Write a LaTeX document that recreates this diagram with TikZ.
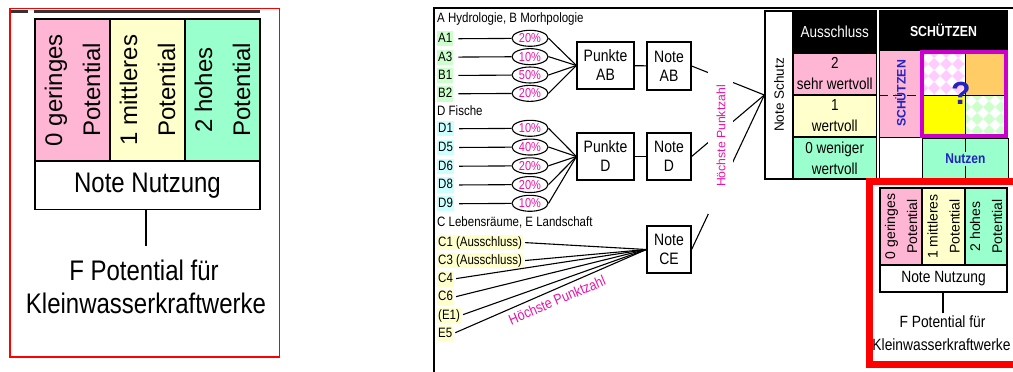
\documentclass[tikz,border=0pt]{standalone}
\usepackage{fontspec}
\setmainfont{Liberation Sans}
\usepackage{graphicx}
\usetikzlibrary{shapes.geometric}
\definecolor{cpink}{RGB}{255,182,213}
\definecolor{cyell}{RGB}{255,255,204}
\definecolor{cmint}{RGB}{153,255,204}
\definecolor{corange}{RGB}{255,204,102}
\definecolor{cyel}{RGB}{255,255,0}
\definecolor{cmag}{RGB}{204,0,204}
\definecolor{cpct}{RGB}{230,20,170}
\definecolor{cblue}{RGB}{35,35,190}
\definecolor{lgreen}{RGB}{204,255,204}
\definecolor{lcyan}{RGB}{204,255,255}
\definecolor{lyel}{RGB}{255,255,204}
\definecolor{chkpink}{RGB}{255,204,255}
\definecolor{chkgreen}{RGB}{204,255,204}
\newcommand{\fz}[2]{\fontsize{#1pt}{#2pt}\selectfont}
\newcommand{\vstr}[1]{\scalebox{1}[1.18]{#1}}
\begin{document}
\begin{tikzpicture}[x=1pt,y=-1pt,
  lbl/.style={anchor=west, inner xsep=1pt, inner ysep=1.8pt, text height=9.7pt, text depth=2pt, font=\fz{11.5}{13}},
  pct/.style={ellipse, draw, line width=1.1pt, minimum width=36pt, minimum height=16pt, inner sep=0pt, text=cpct, font=\fz{11}{13}},
  wire/.style={line width=1.1pt},
  nbox/.style={draw, line width=1.2pt, align=center, inner sep=0pt, font=\fz{14}{19}},
  hdr/.style={font=\fz{11.5}{13}, anchor=base west, inner sep=0pt},
  tcell/.style={draw, line width=1.3pt, inner sep=0pt, align=center},
  bigrot/.style={tcell, line width=1.5pt, rotate=90, minimum width=142pt, minimum height=75pt, font=\fz{24}{38}},
  smallrot/.style={tcell, line width=1.1pt, rotate=90, minimum width=77pt, font=\fz{14}{22}},
  acell/.style={tcell, minimum width=83.5pt, minimum height=42pt, font=\fz{13.5}{21}},
  plain/.style={inner sep=0pt, anchor=base}
]
\useasboundingbox (0,0) rectangle (1013,372);
\fill[white] (0,0) rectangle (1013,372);

% ---------- left zoomed panel ----------
\draw[black!80, line width=3pt] (10,11.2) -- (28,11.2) (34,11.2) -- (260,11.2);
\draw[red, line width=1.3pt] (10,8.7) rectangle (279.3,357);
\node[bigrot, fill=cpink] (lg0) at (72.5,90) {0 geringes\\Potential};
\node[bigrot, fill=cyell] (lg1) at (147.5,90) {1 mittleres\\Potential};
\node[bigrot, fill=cmint] (lg2) at (222.5,90) {2 hohes\\Potential};
\node[tcell, line width=1.5pt, minimum width=225pt, minimum height=48.5pt, font=\fz{24}{28}] (lnn) at (147.5,185.25) {\vstr{Note Nutzung}};
\draw[line width=1.6pt] ([xshift=-1.5pt]lnn.south) -- ++(0,35.5);
\node[plain, font=\fz{24}{28}] (lf1) at (144,280) {\vstr{F Potential für}};
\node[plain, font=\fz{24}{28}] (lf2) at (146,313.5) {\vstr{Kleinwasserkraftwerke}};

% ---------- right panel ----------
\draw[line width=2pt] (434,372) -- (434,7.5) -- (1013,7.5);

\node[hdr] (hab) at (437,22) {\vstr{A Hydrologie, B Morhpologie}};
\node[hdr] (hd) at (437,115.5) {\vstr{D Fische}};
\node[hdr] (hce) at (437,226.5) {\vstr{C Lebensräume, E Landschaft}};

\node[lbl, fill=lgreen] (la1) at (437,38.8) {\vstr{A1}};
\node[lbl, fill=lgreen] (la3) at (437,57.15) {\vstr{A3}};
\node[lbl, fill=lgreen] (lb1) at (437,75.5) {\vstr{B1}};
\node[lbl, fill=lgreen] (lb2) at (437,93.85) {\vstr{B2}};
\node[lbl, fill=lcyan] (ld1) at (437,128.8) {\vstr{D1}};
\node[lbl, fill=lcyan] (ld5) at (437,147.55) {\vstr{D5}};
\node[lbl, fill=lcyan] (ld6) at (437,166.3) {\vstr{D6}};
\node[lbl, fill=lcyan] (ld8) at (437,185.05) {\vstr{D8}};
\node[lbl, fill=lcyan] (ld9) at (437,203.8) {\vstr{D9}};
\node[lbl, fill=lyel] (lc1) at (437,242.5) {\vstr{C1 (Ausschluss)}};
\node[lbl, fill=lyel] (lc3) at (437,260.7) {\vstr{C3 (Ausschluss)}};
\node[lbl, fill=lyel] (lc4) at (437,278.9) {\vstr{C4}};
\node[lbl, fill=lyel] (lc6) at (437,297.1) {\vstr{C6}};
\node[lbl, fill=lyel] (le1) at (437,315.3) {\vstr{(E1)}};
\node[lbl, fill=lyel] (le5) at (437,333.5) {\vstr{E5}};

\node[pct] (ea1) at (530,38.3) {\vstr{20\%}};
\node[pct] (ea2) at (530,56.65) {\vstr{10\%}};
\node[pct] (ea3) at (530,75) {\vstr{50\%}};
\node[pct] (ea4) at (530,93.35) {\vstr{20\%}};
\node[pct] (ed1) at (530,128.3) {\vstr{10\%}};
\node[pct] (ed2) at (530,147.05) {\vstr{40\%}};
\node[pct] (ed3) at (530,165.8) {\vstr{20\%}};
\node[pct] (ed4) at (530,184.55) {\vstr{20\%}};
\node[pct] (ed5) at (530,203.3) {\vstr{10\%}};

\node[nbox, minimum width=57pt, minimum height=47pt] (pab) at (605.5,65.5) {\vstr{Punkte}\\\vstr{AB}};
\node[nbox, minimum width=57pt, minimum height=47pt] (pd) at (605.5,156.5) {\vstr{Punkte}\\\vstr{D}};
\node[nbox, minimum width=44pt, minimum height=48pt] (nab) at (669,66) {\vstr{Note}\\\vstr{AB}};
\node[nbox, minimum width=44pt, minimum height=47pt] (nd) at (669,156.5) {\vstr{Note}\\\vstr{D}};
\node[nbox, minimum width=44pt, minimum height=47pt] (nce) at (669,249.5) {\vstr{Note}\\\vstr{CE}};

\draw[wire, shorten <=5pt] (la1) -- (ea1);
\draw[wire, shorten <=5pt] (la3) -- (ea2);
\draw[wire, shorten <=5pt] (lb1) -- (ea3);
\draw[wire, shorten <=5pt] (lb2) -- (ea4);
\draw[wire, shorten <=5pt] (ld1) -- (ed1);
\draw[wire, shorten <=5pt] (ld5) -- (ed2);
\draw[wire, shorten <=5pt] (ld6) -- (ed3);
\draw[wire, shorten <=5pt] (ld8) -- (ed4);
\draw[wire, shorten <=5pt] (ld9) -- (ed5);
\foreach \n in {ea1,ea2,ea3,ea4} \draw[wire] (\n.east) -- (pab.west);
\foreach \n in {ed1,ed2,ed3,ed4,ed5} \draw[wire] (\n.east) -- (pd.west);
\foreach \n in {lc1,lc3,lc4,lc6,le1,le5} \draw[wire, shorten <=2pt] (\n.east) -- (nce.west);
\draw[wire] (pab) -- (nab);
\draw[wire] (pd) -- (nd);

\node[text=cpct, font=\fz{12.4}{14}, rotate=23, inner sep=0pt] (hp2) at (557,300) {\vstr{Höchste Punktzahl}};

% Note Schutz and Ausschluss column
\node[tcell, minimum width=28pt, minimum height=168pt, font=\fz{13.5}{16}] (ns) at (779,95) {\rotatebox{90}{Note Schutz}};
\draw[wire] (nab.east) -- (ns.west);
\draw[wire] (nd.east) -- (ns.west);
\draw[wire] (nce.east) -- (ns.west);
\fill[white] (708,72) rectangle (733,214);
\node[text=cpct, font=\fz{12.2}{14}, rotate=90, inner sep=0pt] (hp1) at (721,136) {Höchste Punktzahl};

\node[acell, fill=black, text=white] (ax) at (834.75,32) {\vstr{Ausschluss}};
\node[acell, fill=cpink] (a2) at (834.75,74) {\vstr{2}\\\vstr{sehr wertvoll}};
\node[acell, fill=cyell] (a1) at (834.75,116) {\vstr{1}\\\vstr{wertvoll}};
\node[acell, fill=cmint] (a0) at (834.75,158) {\vstr{0 weniger}\\\vstr{wertvoll}};

% SCHUETZEN block
\node[fill=black, text=white, minimum width=129pt, minimum height=40pt, inner sep=0pt, font=\bfseries\fz{12.3}{14}] (sh) at (943.5,30) {\vstr{SCHÜTZEN}};
\node[draw, line width=0.8pt, fill=cpink, minimum width=43pt, minimum height=87pt, inner sep=0pt] (sp) at (900.5,93.5) {};
\draw[line width=1pt, dash pattern=on 9pt off 5pt] (879,95) -- (922,95);
\node[text=cblue, font=\bfseries\fz{12.3}{14}, inner sep=0pt] (spt) at (sp.center) {\rotatebox{90}{SCHÜTZEN}};
\node[draw, line width=0.8pt, fill=white, minimum width=43pt, minimum height=42pt, inner sep=0pt] (sw) at (900.5,158) {};

\fill[white] (922,52) rectangle (965,95);
\begin{scope}
  \clip (922,52) rectangle (965,95);
  \foreach \i in {0,...,4}{\foreach \j in {0,...,4}{
    \fill[chkpink] ({922+12*\i},{52+12*\j}) +(6,0) -- +(0,6) -- +(-6,0) -- +(0,-6) -- cycle;}}
\end{scope}
\fill[corange] (965,52) rectangle (1006,95);
\fill[cyel] (922,95) rectangle (965,136);
\fill[white] (965,95) rectangle (1006,136);
\begin{scope}
  \clip (965,95) rectangle (1006,136);
  \foreach \i in {0,...,4}{\foreach \j in {0,...,4}{
    \fill[chkgreen] ({965+12*\i},{95+12*\j}) +(6,0) -- +(0,6) -- +(-6,0) -- +(0,-6) -- cycle;}}
\end{scope}
\draw[line width=1pt] (965,52) -- (965,136) (922,95) -- (1006,95);
\draw[cmag, line width=4pt] (922,52) rectangle (1006,136);
\node[text=cblue, font=\bfseries\fz{32}{36}, inner sep=0pt] (q) at (961,93.5) {?};

\node[draw, line width=0.8pt, fill=cmint, minimum width=86pt, minimum height=41pt, inner sep=0pt, anchor=north west] (nz) at (922,138) {};
\draw[line width=1pt] (nz.north) -- (nz.south);
\node[fill=cmint, text=cblue, font=\bfseries\fz{12}{14}, inner sep=2pt] (nzt) at (nz.center) {\vstr{Nutzen}};

% red zoom frame with small table
\draw[red, line width=7pt] (869.5,181.5) rectangle (1020,364);
\node[smallrot, fill=cpink, minimum height=42pt] (ig0) at (901,226.5) {0 geringes\\Potential};
\node[smallrot, fill=cyell, minimum height=43pt] (ig1) at (943.5,226.5) {1 mittleres\\Potential};
\node[smallrot, fill=cmint, minimum height=42pt] (ig2) at (986,226.5) {2 hohes\\Potential};
\node[tcell, line width=1.1pt, minimum width=127pt, minimum height=27pt, font=\fz{13.8}{16}] (inn) at (943.5,278.5) {\vstr{Note Nutzung}};
\draw[line width=1.1pt] ([xshift=-0.5pt]inn.south) -- ++(0,20);
\node[plain, font=\fz{13.8}{16}] (if1) at (942.5,327.5) {\vstr{F Potential für}};
\node[plain, font=\fz{13.8}{16}] (if2) at (941.5,350) {\vstr{Kleinwasserkraftwerke}};
\end{tikzpicture}
\end{document}
